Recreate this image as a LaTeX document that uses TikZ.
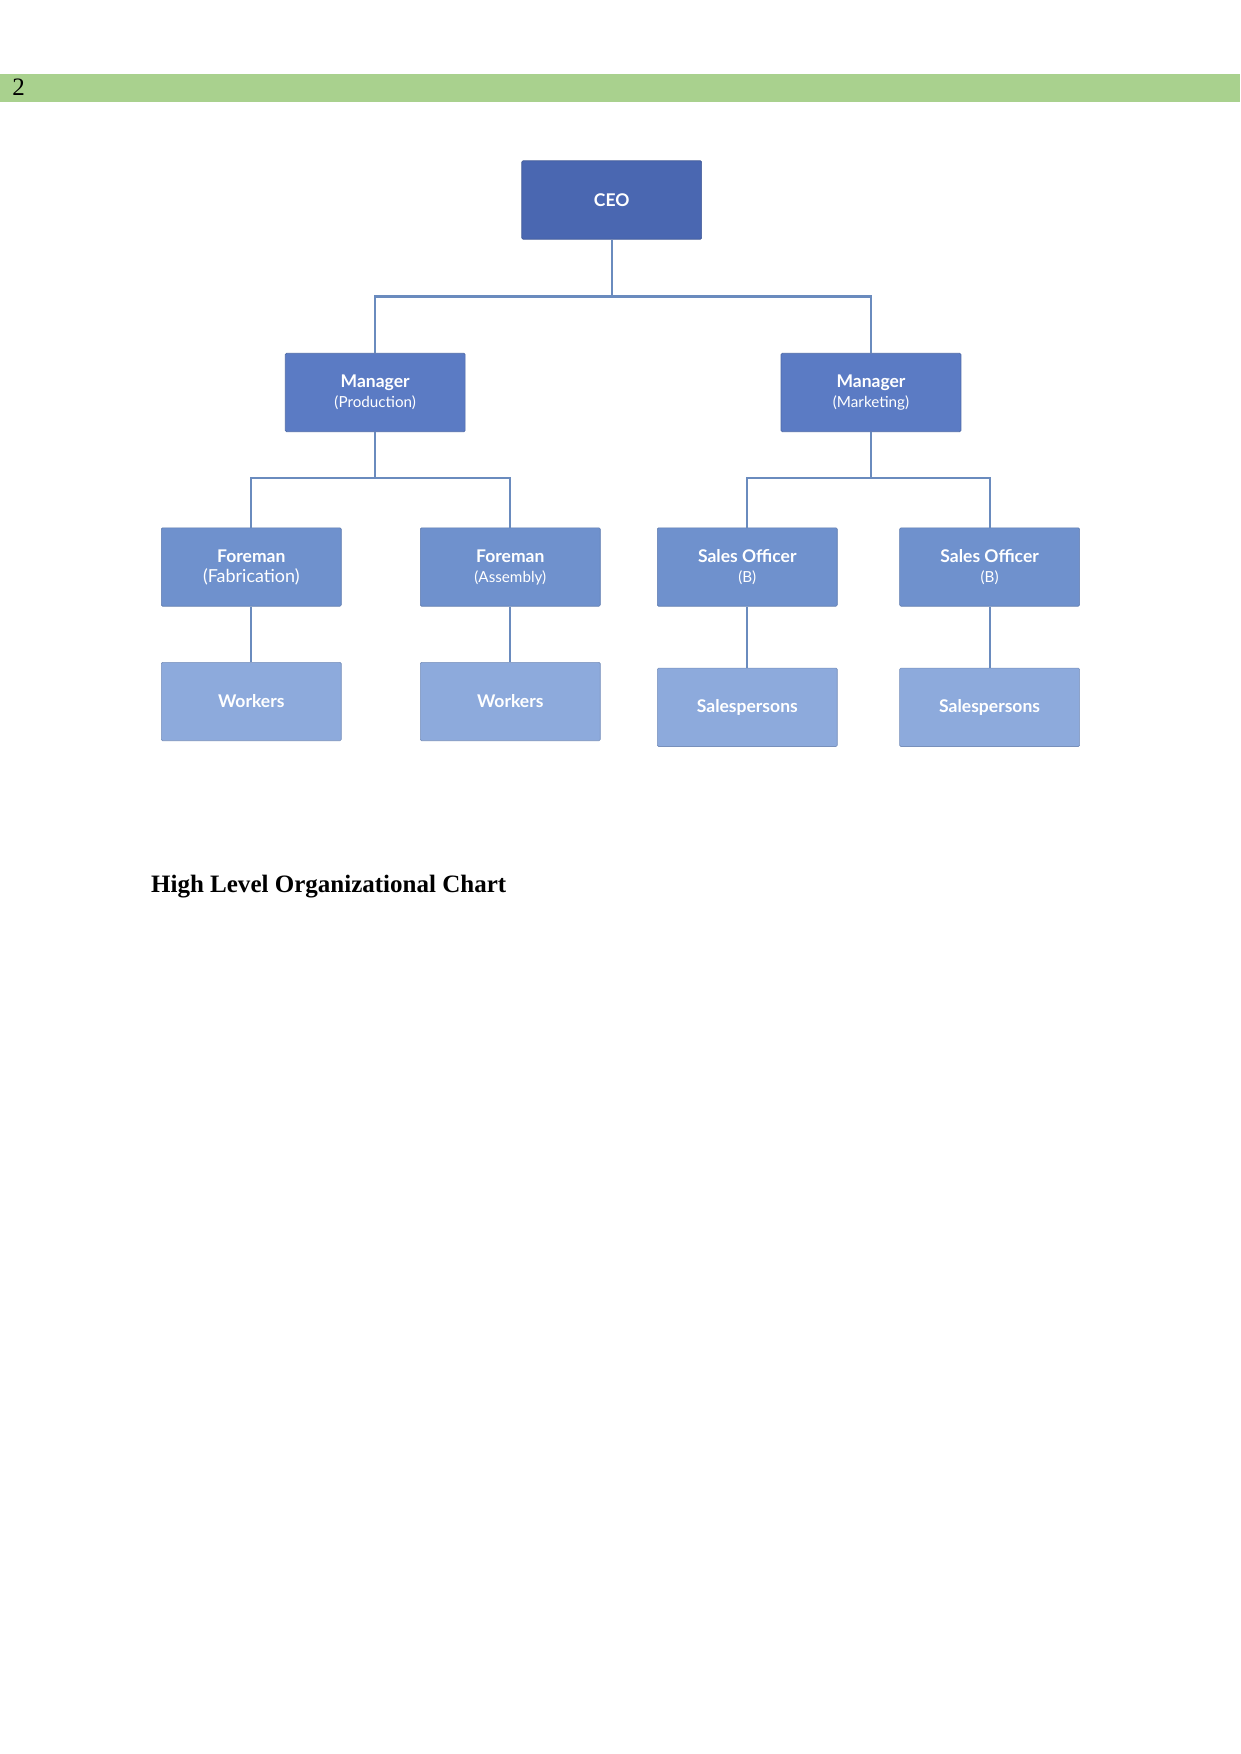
\documentclass[tikz,border=0pt]{standalone}
\usepackage{fontspec}
\setmainfont{Liberation Serif}
\newfontfamily\latofont{Lato}
\usepackage{xcolor}
\usetikzlibrary{positioning}
\definecolor{barGreen}{HTML}{A9D18E}
\definecolor{ceoBlue}{HTML}{4A67B1}
\definecolor{mgrBlue}{HTML}{5B7BC4}
\definecolor{fmnBlue}{HTML}{6F91CD}
\definecolor{wrkBlue}{HTML}{8DAADC}
\definecolor{linkBlue}{HTML}{6A8BBE}

\tikzset{
  orgbox/.style={rectangle, rounded corners=0.6pt, minimum width=86.3pt, minimum height=37.6pt,
    inner sep=1pt, text=white, align=center, font=\latofont, draw=#1!85!black, line width=0.3pt, fill=#1},
  link/.style={draw=linkBlue, line width=1pt},
  top/.style={font=\latofont\bfseries\fontsize{8.4}{9.5}\selectfont}
}
\newcommand{\boxtext}[2]{{\bfseries\fontsize{8.4}{9.5}\selectfont #1}\\[-2.4pt]{\fontsize{7.3}{8.5}\selectfont #2}}

\begin{document}
\begin{tikzpicture}[x=0.4797pt, y=-0.4797pt]
\useasboundingbox (0,0) rectangle (1241,1754);

% page header
\fill[barGreen] (0,74) rectangle (1240,102);
\node[anchor=base west, inner sep=0pt, font=\fontsize{12}{14}\selectfont] (pagenum) at (12,96) {2};

% top level
\node[orgbox=ceoBlue, top] (ceo) at (611.7,200) {CEO};

% managers
\node[orgbox=mgrBlue] (mprod) at (375.2,392.5) {\boxtext{Manager}{(Production)}};
\node[orgbox=mgrBlue] (mmkt) at (871,392.5) {\boxtext{Manager}{(Marketing)}};

% foremen and sales officers
\node[orgbox=fmnBlue] (ffab) at (251.3,567) {\boxtext{Foreman}{\fontsize{8.6}{9}\selectfont(Fabrication)}};
\node[orgbox=fmnBlue] (fasm) at (510.3,567) {\boxtext{Foreman}{(Assembly)}};
\node[orgbox=fmnBlue] (sofa) at (747.3,567) {\boxtext{Sales Officer}{(B)}};
\node[orgbox=fmnBlue] (sofb) at (989.6,567) {\boxtext{Sales Officer}{(B)}};

% staff
\node[orgbox=wrkBlue, top] (wfab) at (251.3,701.5) {Workers};
\node[orgbox=wrkBlue, top] (wasm) at (510.3,701.5) {Workers};
\node[orgbox=wrkBlue, top] (spa) at (747.3,707.3) {Salespersons};
\node[orgbox=wrkBlue, top] (spb) at (989.6,707.3) {Salespersons};

% connectors
\coordinate (j0) at (611.7,296.5);
\coordinate (j1) at (375.2,478);
\coordinate (j2) at (871,478);
\draw[link] (ceo.south) -- (j0);
\draw[link] (mprod.north) |- (j0) -| (mmkt.north);
\draw[link] (mprod.south) -- (j1);
\draw[link] (ffab.north) |- (j1) -| (fasm.north);
\draw[link] (mmkt.south) -- (j2);
\draw[link] (sofa.north) |- (j2) -| (sofb.north);
\draw[link] (ffab.south) -- (wfab.north);
\draw[link] (fasm.south) -- (wasm.north);
\draw[link] (sofa.south) -- (spa.north);
\draw[link] (sofb.south) -- (spb.north);

% caption
\node[anchor=base west, inner sep=0pt, font=\bfseries\fontsize{12}{14}\selectfont] (caption) at (150.7,892) {High Level Organizational Chart};
\end{tikzpicture}
\end{document}
